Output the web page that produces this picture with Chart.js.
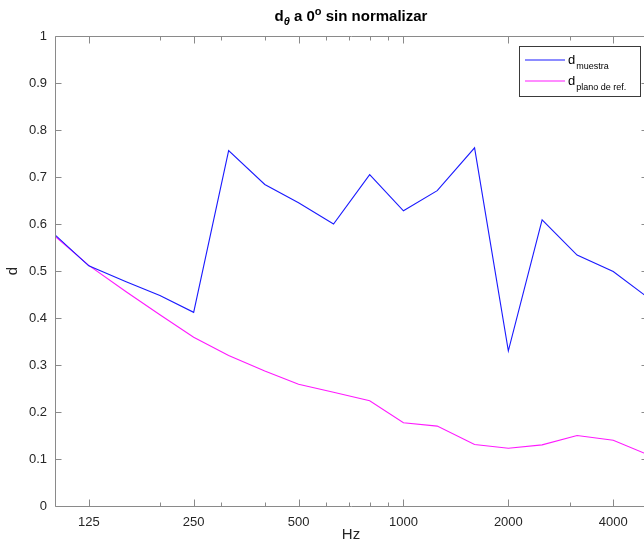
<!DOCTYPE html>
<html>
<head>
<meta charset="utf-8">
<script src="https://cdn.jsdelivr.net/npm/chart.js@4.4.1/dist/chart.umd.min.js"></script>
<style>
  html, body { margin: 0; padding: 0; background: #fff; overflow: hidden; width: 644px; height: 544px; }
  #wrap { position: absolute; left: 0; top: 0; width: 650px; height: 544px; }
</style>
</head>
<body>
<div id="wrap"><canvas id="grafico" width="650" height="544"></canvas></div>
<script>
// Bandas de tercio de octava (Hz)
const frecuencias = [100, 125, 160, 200, 250, 315, 400, 500, 630, 800, 1000, 1250, 1600, 2000, 2500, 3150, 4000, 5000];
// d de la muestra y del plano de referencia
const dMuestra = [0.577, 0.511, 0.477, 0.448, 0.412, 0.756, 0.684, 0.645, 0.600, 0.705, 0.628, 0.671, 0.762, 0.330, 0.609, 0.534, 0.499, 0.445];
const dPlanoRef = [0.574, 0.512, 0.456, 0.407, 0.359, 0.320, 0.287, 0.259, 0.242, 0.224, 0.177, 0.170, 0.131, 0.123, 0.130, 0.150, 0.140, 0.110];

const nombresSeries = ['muestra', 'plano de ref.'];
const coloresSeries = ['#1a1aff', '#ff1aff'];

const ticksX = [125, 250, 500, 1000, 2000, 4000];
const ticksMenoresX = [200, 300, 400, 600, 700, 800, 900, 3000];
const ticksY = [0, 0.1, 0.2, 0.3, 0.4, 0.5, 0.6, 0.7, 0.8, 0.9, 1];

const FUENTE = '"Liberation Sans", Arial, sans-serif';
const GRIS_EJE = '#8a8a8a';
const GRIS_TEXTO = '#262626';

const puntos = serie => frecuencias.map((f, i) => ({ x: f, y: serie[i] }));

// Caja de ejes estilo MATLAB con ticks hacia dentro, título y leyenda con subíndices
const cajaMatlab = {
    id: 'cajaMatlab',
    afterDatasetsDraw(chart) {
        const { ctx, chartArea: a, scales } = chart;
        const L = Math.round(a.left) + 0.5, R = Math.round(a.right) + 0.5;
        const T = Math.round(a.top) + 0.5, B = Math.round(a.bottom) + 0.5;
        ctx.save();
        ctx.strokeStyle = GRIS_EJE;
        ctx.lineWidth = 1;
        ctx.beginPath();
        ctx.rect(L, T, R - L, B - T);
        ctx.stroke();

        ctx.beginPath();
        const marcaX = (v, largo) => {
            const x = Math.round(scales.x.getPixelForValue(v)) + 0.5;
            ctx.moveTo(x, B); ctx.lineTo(x, B - largo);
            ctx.moveTo(x, T); ctx.lineTo(x, T + largo);
        };
        ticksX.forEach(v => marcaX(v, 7));
        ticksMenoresX.forEach(v => marcaX(v, 4));
        ticksY.forEach(v => {
            const y = Math.round(scales.y.getPixelForValue(v)) + 0.5;
            ctx.moveTo(L, y); ctx.lineTo(L + 6, y);
            ctx.moveTo(R, y); ctx.lineTo(R - 6, y);
        });
        ctx.stroke();

        // Título: d_θ a 0º sin normalizar
        const trozos = [
            { t: 'd', f: 'bold 15px ' + FUENTE, dy: 0 },
            { t: 'θ', f: 'italic bold 11px ' + FUENTE, dy: 4 },
            { t: ' a 0', f: 'bold 15px ' + FUENTE, dy: 0 },
            { t: 'o', f: 'bold 11px ' + FUENTE, dy: -6 },
            { t: ' sin normalizar', f: 'bold 15px ' + FUENTE, dy: 0 }
        ];
        let ancho = 0;
        trozos.forEach(p => { ctx.font = p.f; p.w = ctx.measureText(p.t).width; ancho += p.w; });
        let x = (a.left + a.right) / 2 - ancho / 2;
        ctx.fillStyle = '#000';
        ctx.textBaseline = 'alphabetic';
        trozos.forEach(p => { ctx.font = p.f; ctx.fillText(p.t, x, 21 + p.dy); x += p.w; });

        // Leyenda
        const lx = 519.5, ly = 46.5, lw = 121, lh = 50;
        ctx.fillStyle = '#fff';
        ctx.fillRect(lx, ly, lw, lh);
        ctx.strokeStyle = '#3a3a3a';
        ctx.strokeRect(lx, ly, lw, lh);
        nombresSeries.forEach((nombre, i) => {
            const yy = 60 + i * 21;
            ctx.strokeStyle = coloresSeries[i];
            ctx.lineWidth = 1.2;
            ctx.beginPath();
            ctx.moveTo(525, yy); ctx.lineTo(565, yy);
            ctx.stroke();
            ctx.fillStyle = '#000';
            ctx.font = '13px ' + FUENTE;
            ctx.fillText('d', 568, yy + 4);
            const wd = ctx.measureText('d').width;
            ctx.font = '9px ' + FUENTE;
            ctx.fillText(nombre, 568 + wd + 1, yy + 9);
        });
        ctx.restore();
    }
};

new Chart(document.getElementById('grafico'), {
    type: 'line',
    data: {
        datasets: [
            { label: 'd muestra', data: puntos(dMuestra), borderColor: coloresSeries[0], borderWidth: 1.1, pointRadius: 0, tension: 0 },
            { label: 'd plano de ref.', data: puntos(dPlanoRef), borderColor: coloresSeries[1], borderWidth: 1.1, pointRadius: 0, tension: 0 }
        ]
    },
    options: {
        responsive: false,
        animation: false,
        events: [],
        layout: { padding: { top: 36, right: 3, left: 0, bottom: 0 } },
        plugins: { legend: { display: false }, title: { display: false }, tooltip: { enabled: false } },
        scales: {
            x: {
                type: 'logarithmic',
                min: 100,
                max: 5000,
                afterBuildTicks: s => { s.ticks = ticksX.map(v => ({ value: v })); },
                afterFit: s => { s.height = 38; },
                grid: { display: false, drawTicks: false },
                border: { display: false },
                ticks: {
                    autoSkip: false, maxRotation: 0, padding: 9,
                    color: GRIS_TEXTO, font: { family: FUENTE, size: 13 },
                    callback: v => String(v)
                },
                title: { display: true, text: 'Hz', color: GRIS_TEXTO, font: { family: FUENTE, size: 15 }, padding: { top: 0, bottom: 0 } }
            },
            y: {
                min: 0,
                max: 1,
                afterBuildTicks: s => { s.ticks = ticksY.map(v => ({ value: v })); },
                afterFit: s => { s.width = 55; },
                grid: { display: false, drawTicks: false },
                border: { display: false },
                ticks: {
                    padding: 8,
                    color: GRIS_TEXTO, font: { family: FUENTE, size: 13 },
                    callback: v => String(+v.toFixed(1))
                },
                title: { display: true, text: 'd', color: GRIS_TEXTO, font: { family: FUENTE, size: 15 }, padding: { top: 4, bottom: 4 } }
            }
        }
    },
    plugins: [cajaMatlab]
});
</script>
</body>
</html>
